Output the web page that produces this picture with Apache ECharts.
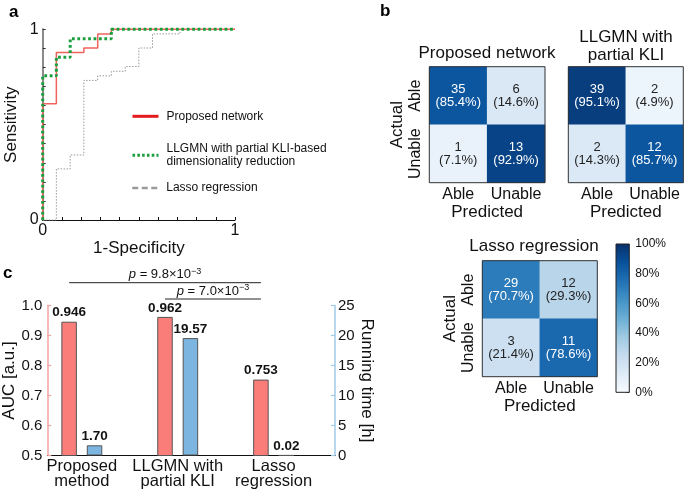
<!DOCTYPE html>
<html><head><meta charset="utf-8">
<script src="https://cdn.jsdelivr.net/npm/echarts@6/dist/echarts.min.js"></script>
<style>html,body{margin:0;padding:0;background:#fff}#c{width:685px;height:493px}</style>
</head><body><div id="c"></div>
<script>
// ---------- Panel a: ROC curves (FPR = 1-Specificity, TPR = Sensitivity) ----------
const rocLassoFpr    = [0,0.071,0.071,0.143,0.143,0.214,0.214,0.286,0.286,0.357,0.357,0.429,0.429,0.5,0.5,0.571,0.571,0.714,0.714,1];
const rocLassoTpr    = [0,0,0.268,0.268,0.341,0.341,0.732,0.732,0.756,0.756,0.780,0.780,0.805,0.805,0.902,0.902,0.976,0.976,1,1];
const rocProposedFpr = [0,0,0.071,0.071,0.214,0.214,0.286,0.286,0.357,0.357,1];
const rocProposedTpr = [0,0.610,0.610,0.878,0.878,0.902,0.902,0.976,0.976,1,1];
const rocLlgmnFpr    = [0,0,0.071,0.071,0.143,0.143,0.357,0.357,1];
const rocLlgmnTpr    = [0,0.756,0.756,0.854,0.854,0.951,0.951,1,1];
const rocSeriesNames = ['Lasso regression','Proposed network','LLGMN with partial KLI-based dimensionality reduction'];
const rocTickLabels  = [0, 1];

// ---------- Panel b: confusion matrices (rows = actual, cols = predicted) ----------
const cmClasses        = ['Able','Unable'];
const cmProposedCounts = [[35,6],[1,13]];
const cmProposedPct    = [[85.4,14.6],[7.1,92.9]];
const cmLlgmnCounts    = [[39,2],[2,12]];
const cmLlgmnPct       = [[95.1,4.9],[14.3,85.7]];
const cmLassoCounts    = [[29,12],[3,11]];
const cmLassoPct       = [[70.7,29.3],[21.4,78.6]];
const colorbarRange    = [0, 100];
const colorbarStep     = 20;

// ---------- Panel c: AUC and running time ----------
const barMethods    = ['Proposed\nmethod','LLGMN with\npartial KLI','Lasso\nregression'];
const aucValues     = [0.946, 0.962, 0.753];
const runTimeValues = [1.70, 19.57, 0.02];
const pValueMantissa = ['9.8', '7.0'];
const pValueExponent = ['−3', '−3'];

const FONT = '"Liberation Sans", Arial, Helvetica, sans-serif';
const BLUES = ['#f7fbff','#deebf7','#c6dbef','#9ecae1','#6baed6','#4292c6','#2171b5','#08519c','#08306b'];
const TXT = '#111';

const chart = echarts.init(document.getElementById('c'), null, {renderer:'canvas'});

function zip(a,b){ return a.map((v,i)=>[v,b[i]]); }
function heatData(pct){
  const out=[];
  for(let r=0;r<2;r++) for(let c=0;c<2;c++){
    const v=pct[r][c];
    out.push({value:[c,1-r,v], label:{color: v>50 ? '#ffffff' : '#222222'}});
  }
  return out;
}
function heatFormatter(counts,pct){
  return p => { const c=p.value[0], r=1-p.value[1]; return counts[r][c] + '\n(' + pct[r][c].toFixed(1) + '%)'; };
}

const grids = [
  {left:42.7, top:29.3, width:192.3, height:190.7},
  {left:429.3, top:66.7, width:115.7, height:116, show:true, borderColor:'#333', borderWidth:1, z:5},
  {left:568.3, top:66.7, width:115, height:116, show:true, borderColor:'#333', borderWidth:1, z:5},
  {left:482.3, top:260.7, width:115, height:116, show:true, borderColor:'#333', borderWidth:1, z:5},
  {left:616, top:244, width:13.3, height:148.3, show:true, borderColor:'#222', borderWidth:1, z:5},
  {left:47.3, top:305.5, width:287.7, height:150}
].map(g=>Object.assign({outerBoundsMode:'none', containLabel:false, backgroundColor:'transparent'}, g));

function cmX(gi){
  return {gridIndex:gi, type:'category', data:cmClasses, position:'bottom',
    axisLine:{show:false}, axisTick:{show:false}, splitLine:{show:false},
    axisLabel:{interval:0, hideOverlap:false, fontSize:16, margin:4, color:TXT, fontFamily:FONT},
    name:'Predicted', nameLocation:'middle', nameGap:20,
    nameTextStyle:{fontSize:17, color:TXT, fontFamily:FONT}};
}
function cmY(gi, show){
  return {gridIndex:gi, type:'category', data:[cmClasses[1], cmClasses[0]],
    axisLine:{show:false}, axisTick:{show:false}, splitLine:{show:false},
    axisLabel:{show:show, interval:0, hideOverlap:false, rotate:90, fontSize:16, margin:6, color:TXT, fontFamily:FONT},
    name: show ? 'Actual' : '', nameLocation:'middle', nameGap:23, nameRotate:90,
    nameTextStyle:{fontSize:17, color:TXT, fontFamily:FONT}};
}
function heatSeries(gi, counts, pct){
  return {type:'heatmap', xAxisIndex:gi, yAxisIndex:gi, data:heatData(pct),
    itemStyle:{borderWidth:0},
    label:{show:true, fontSize:13, lineHeight:13, fontFamily:FONT, formatter:heatFormatter(counts,pct)},
    emphasis:{disabled:true}};
}

const BAR_W = 15.5, BAR_GAP = 0.64;
const legendCommon = {left:131, padding:0, itemWidth:26, itemHeight:14, selectedMode:false,
  itemStyle:{opacity:0, borderWidth:0, color:'rgba(0,0,0,0)'}};

const option = {
  animation:false,
  textStyle:{fontFamily:FONT},
  grid: grids,
  xAxis: [
    {gridIndex:0, type:'value', min:0, max:1, interval:0.1,
      axisLine:{show:true, onZero:false, lineStyle:{color:'#111', width:1}},
      axisTick:{show:true, inside:true, length:3, lineStyle:{color:'#111'}},
      splitLine:{show:false},
      axisLabel:{fontSize:16, margin:3, color:TXT, formatter:v=>rocTickLabels.includes(v)?String(v):''},
      name:'1-Specificity', nameLocation:'middle', nameGap:12,
      nameTextStyle:{fontSize:17, color:TXT}},
    cmX(1), cmX(2), cmX(3),
    {gridIndex:4, type:'category', data:['c'], show:false},
    {gridIndex:5, type:'value', min:0.64, max:3.64,
      axisLine:{show:true, onZero:false, lineStyle:{color:'#111', width:1}},
      axisTick:{show:false}, splitLine:{show:false},
      axisLabel:{customValues:[1,2,3], formatter:v=>barMethods[Math.round(v)-1],
        fontSize:16.5, lineHeight:15, margin:3.5, color:TXT}}
  ],
  yAxis: [
    {gridIndex:0, type:'value', min:0, max:1, interval:0.1,
      axisLine:{show:true, onZero:false, lineStyle:{color:'#8a8a8a', width:2}},
      axisTick:{show:true, inside:true, length:3, lineStyle:{color:'#333'}},
      splitLine:{show:false},
      axisLabel:{fontSize:16, margin:4, color:TXT, formatter:v=>rocTickLabels.includes(v)?String(v):''},
      name:'Sensitivity', nameLocation:'middle', nameGap:23, nameRotate:90,
      nameTextStyle:{fontSize:17, color:TXT}},
    cmY(1,true), cmY(2,false), cmY(3,true),
    {gridIndex:4, type:'value', position:'right', min:colorbarRange[0], max:colorbarRange[1], interval:colorbarStep,
      axisLine:{show:false}, axisTick:{show:true, inside:true, length:3, lineStyle:{color:'#222'}},
      splitLine:{show:false},
      axisLabel:{formatter:'{value}%', fontSize:12, margin:6, color:TXT}},
    {gridIndex:5, type:'value', position:'left', min:0.5, max:1.0, interval:0.1,
      axisLine:{show:true, onZero:false, lineStyle:{color:'#f5a3a3', width:1.5}},
      axisTick:{show:true, inside:true, length:4, lineStyle:{color:'#f5a3a3', width:1.2}},
      splitLine:{show:false},
      axisLabel:{fontSize:15, margin:5, color:TXT, formatter:v=>v.toFixed(1)},
      name:'AUC [a.u.]', nameLocation:'middle', nameGap:28, nameRotate:90,
      nameTextStyle:{fontSize:17, color:TXT}},
    {gridIndex:5, type:'value', position:'right', min:0, max:25, interval:5,
      axisLine:{show:true, onZero:false, lineStyle:{color:'#9fcbea', width:1.5}},
      axisTick:{show:true, inside:true, length:4, lineStyle:{color:'#9fcbea', width:1.2}},
      splitLine:{show:false},
      axisLabel:{fontSize:15, margin:3, color:TXT},
      name:'Running time [h]', nameLocation:'middle', nameGap:18, nameRotate:-90,
      nameTextStyle:{fontSize:17, color:TXT}}
  ],
  visualMap: {type:'continuous', show:false, min:colorbarRange[0], max:colorbarRange[1],
    dimension:2, seriesIndex:[3,4,5], inRange:{color:BLUES}},
  legend: [
    Object.assign({}, legendCommon, {data:[rocSeriesNames[1]], top:110.3,
      lineStyle:{color:'#e41a1c', width:3, type:'solid'},
      textStyle:{fontSize:12, color:TXT, padding:[0,0,0,3]}}),
    Object.assign({}, legendCommon, {data:[rocSeriesNames[2]], top:135.7,
      lineStyle:{color:'#1b9e3e', width:3, type:[2.6,2.2]},
      formatter:n=>n.replace('KLI-based ','KLI-based\n'),
      textStyle:{fontSize:12, lineHeight:13, color:TXT, padding:[13,0,0,3]}}),
    Object.assign({}, legendCommon, {data:[rocSeriesNames[0]], top:182,
      lineStyle:{color:'#9a9a9a', width:2.5, type:[6,3.5]},
      textStyle:{fontSize:12, color:TXT, padding:[0,0,0,3]}})
  ],
  series: [
    {type:'line', name:rocSeriesNames[0], xAxisIndex:0, yAxisIndex:0, data:zip(rocLassoFpr,rocLassoTpr),
      symbol:'none', showSymbol:false, clip:false, itemStyle:{color:'#9a9a9a'},
      lineStyle:{color:'#9a9a9a', width:1, type:[1.5,1.5]}, z:2},
    {type:'line', name:rocSeriesNames[1], xAxisIndex:0, yAxisIndex:0, data:zip(rocProposedFpr,rocProposedTpr),
      symbol:'none', showSymbol:false, clip:false, itemStyle:{color:'#f0625c'},
      lineStyle:{color:'#f0625c', width:1.5}, z:3},
    {type:'line', name:rocSeriesNames[2], xAxisIndex:0, yAxisIndex:0, data:zip(rocLlgmnFpr,rocLlgmnTpr),
      symbol:'none', showSymbol:false, clip:false, itemStyle:{color:'#1b9e3e'},
      lineStyle:{color:'#1b9e3e', width:3, type:[2.8,2.6]}, z:4},
    heatSeries(1, cmProposedCounts, cmProposedPct),
    heatSeries(2, cmLlgmnCounts, cmLlgmnPct),
    heatSeries(3, cmLassoCounts, cmLassoPct),
    {type:'bar', xAxisIndex:4, yAxisIndex:4, data:[colorbarRange[1]], barWidth:'100%', silent:true,
      itemStyle:{color:new echarts.graphic.LinearGradient(0,1,0,0, BLUES.map((c,i)=>({offset:i/(BLUES.length-1), color:c})))}},
    {type:'bar', name:'AUC', xAxisIndex:5, yAxisIndex:5, data:aucValues.map((v,i)=>[i+1,v]),
      barWidth:BAR_W, barGap:(BAR_GAP*100)+'%',
      itemStyle:{color:'#fa7d7a', borderColor:'#555', borderWidth:1},
      label:{show:true, position:'top', distance:2, fontSize:13.5, fontWeight:'bold', color:TXT,
        formatter:p=>aucValues[p.dataIndex].toFixed(3)}},
    {type:'bar', name:'Running time', xAxisIndex:5, yAxisIndex:6, data:runTimeValues.map((v,i)=>[i+1,v]),
      barWidth:BAR_W, barGap:(BAR_GAP*100)+'%',
      itemStyle:{color:'#7cb5e0', borderColor:'#555', borderWidth:1},
      label:{show:true, position:'top', distance:2, fontSize:13.5, fontWeight:'bold', color:TXT,
        formatter:p=>runTimeValues[p.dataIndex].toFixed(2)}}
  ]
};
chart.setOption(option);

// ---------- annotations (panel letters, matrix titles, p-value brackets) ----------
const redOffset = (BAR_W + BAR_W*BAR_GAP)/2;
const redX = [1,2,3].map(v => chart.convertToPixel({xAxisIndex:5}, v) - redOffset);
const gridTop = chart.convertToPixel({yAxisIndex:5}, 1.0);
const br1 = gridTop - 22.8, br2 = gridTop - 6.5;
function pText(i, x, y){
  return {type:'text', x:x, y:y, style:{
    text:'{i|p} = ' + pValueMantissa[i] + '×10{s|' + pValueExponent[i] + '}',
    textAlign:'center', textVerticalAlign:'bottom', fill:TXT, fontFamily:FONT, fontSize:13,
    rich:{i:{fontStyle:'italic', fontSize:13, fontFamily:FONT, lineHeight:15},
          s:{fontSize:9, fontFamily:FONT, verticalAlign:'top', lineHeight:15}}}};
}
const titleStyle = {fontFamily:FONT, fontSize:17, fill:TXT, textAlign:'center', textVerticalAlign:'middle'};
chart.setOption({graphic:[
  {type:'text', x:9, y:12, style:{text:'a', fontFamily:FONT, fontSize:17, fontWeight:'bold', fill:'#000', textVerticalAlign:'middle'}},
  {type:'text', x:380, y:11, style:{text:'b', fontFamily:FONT, fontSize:17, fontWeight:'bold', fill:'#000', textVerticalAlign:'middle'}},
  {type:'text', x:3, y:273, style:{text:'c', fontFamily:FONT, fontSize:17, fontWeight:'bold', fill:'#000', textVerticalAlign:'middle'}},
  {type:'text', x:487, y:53, style:Object.assign({text:'Proposed network'}, titleStyle)},
  {type:'text', x:626, y:46, style:Object.assign({text:'LLGMN with\npartial KLI', lineHeight:18}, titleStyle)},
  {type:'text', x:534, y:246, style:Object.assign({text:'Lasso regression'}, titleStyle)},
  {type:'line', shape:{x1:redX[0], y1:br1, x2:redX[2], y2:br1}, style:{stroke:'#222', lineWidth:1}},
  {type:'line', shape:{x1:redX[1], y1:br2, x2:redX[2], y2:br2}, style:{stroke:'#222', lineWidth:1}},
  pText(0, (redX[0]+redX[2])/2, br1 - 0.5),
  pText(1, (redX[1]+redX[2])/2, br2 - 0.5)
]});
</script></body></html>
